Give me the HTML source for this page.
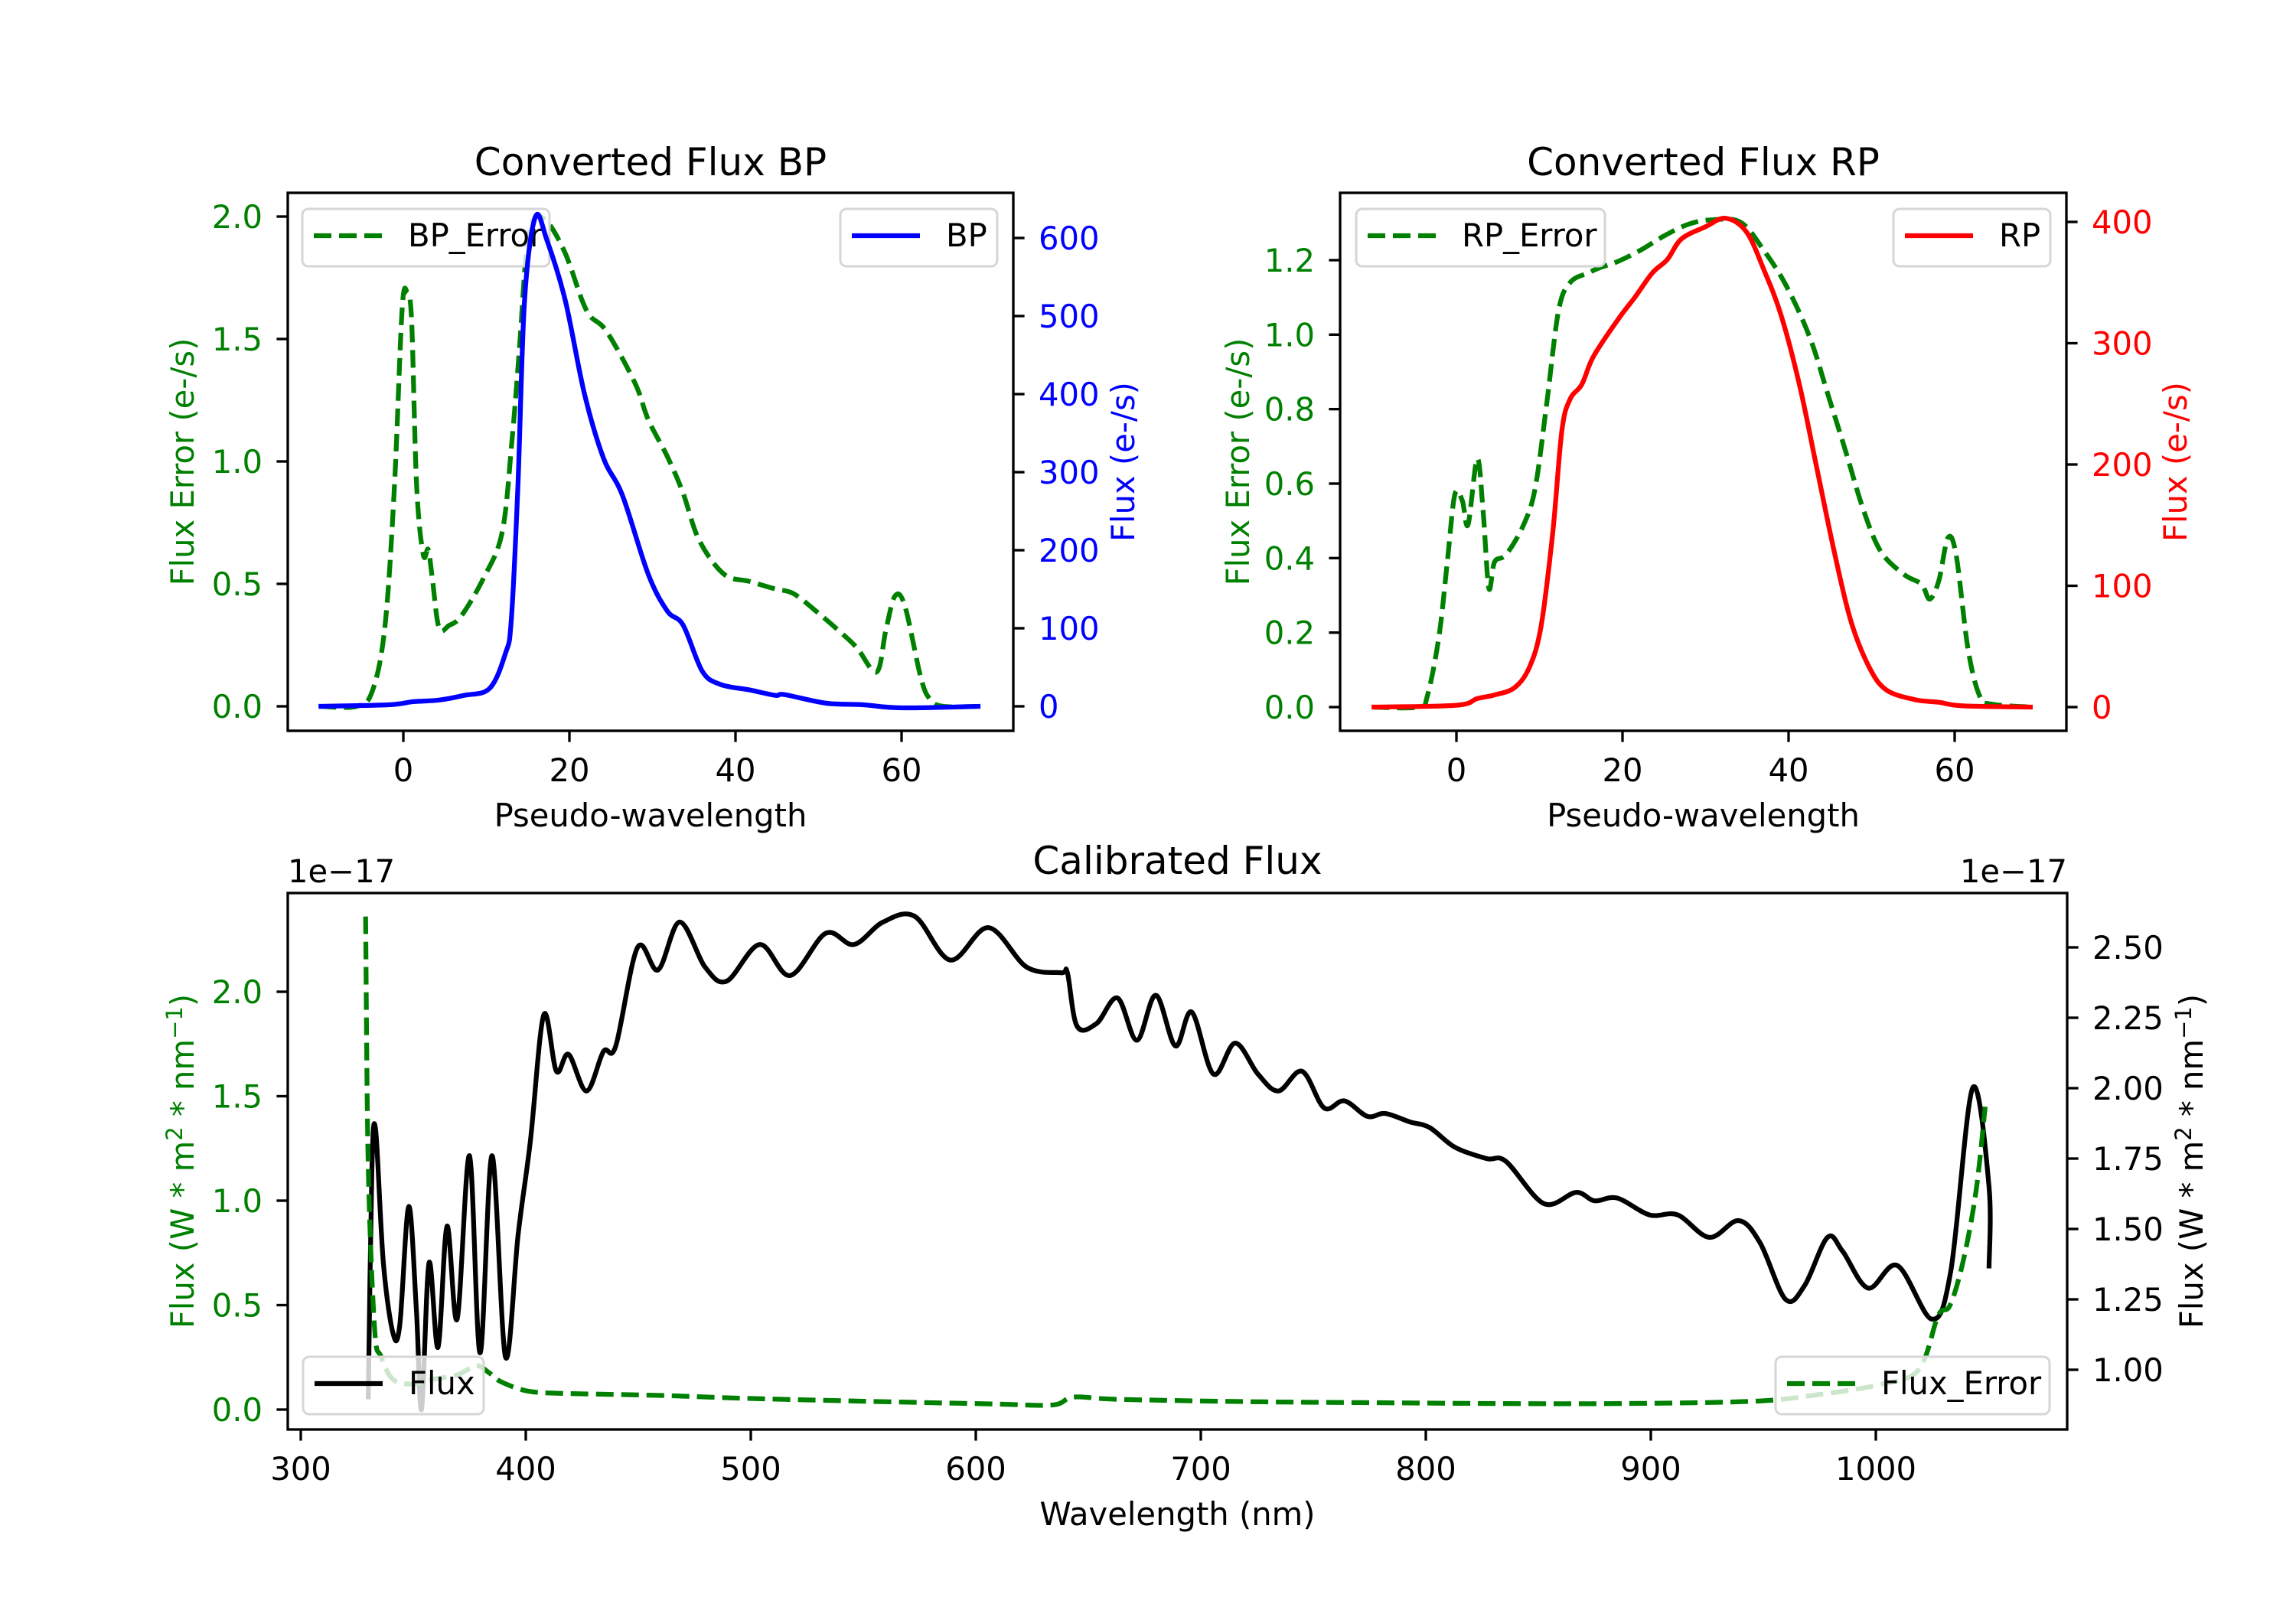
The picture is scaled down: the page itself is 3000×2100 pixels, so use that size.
<!DOCTYPE html>
<html><head><meta charset="utf-8"><style>
html,body{margin:0;padding:0;background:#fff;}
svg{display:block;font-family:"DejaVu Sans","Liberation Sans",sans-serif;}
</style></head><body>
<svg id="fig" width="3000" height="2100" viewBox="0 0 3000 2100" xmlns="http://www.w3.org/2000/svg">
<rect width="3000" height="2100" fill="#fff"/>
</svg>
<script>
// ---- BP panel data ----
const bpX = [-10.2,-1.8,1.2,4.3,7.3,10.4,12.3,13.0,13.8,14.6,15.9,17.3,19.5,21.8,24.1,26.4,29.5,31.8,33.7,36,38.2,41.7,44.8,45.9,50.9,55.4,60,69.5];
const bpFlux = [0,2,6,8,14,23,68,110,282,520,627,597,520,401,318,270,169,122,104,45,28,21,14,15,4,2,-2,0];
const bpErrX = [-10.2,-5.6,-3.7,-2.2,-1.07,-0.15,0.46,1,1.6,2.4,3,3.5,4.3,5.5,7,9.6,11.9,13.1,14,14.8,15.7,17.3,19.5,21.5,22.6,24.5,27.9,29.5,31.8,33.7,35.6,38.6,41.7,44.7,47,50,52.4,54.6,57,58.1,59.2,60.4,62.3,63.4,65,69.5];
const bpErr = [0,0,0.066,0.33,0.9,1.62,1.69,1.57,0.9,0.62,0.64,0.52,0.32,0.33,0.37,0.52,0.71,1.09,1.47,1.85,1.99,1.98,1.85,1.66,1.59,1.53,1.32,1.17,1.02,0.87,0.68,0.54,0.51,0.48,0.46,0.38,0.31,0.24,0.14,0.31,0.45,0.41,0.12,0.03,0,0];
// ---- RP panel data ----
const rpX = [-10.2,0,2.5,4.6,7,8.8,10.2,11.6,12.7,13.7,15.1,16.5,19.4,21.5,23.6,25.4,27.1,30,32.4,34.9,37,39.1,41.3,43.4,45.5,47.5,49.7,51.8,55.3,58.1,61,69.4];
const rpFlux = [0,1.5,7,10,16,33,67,144,228,254,266,289,319,338,358,369,386,396,403,392,361,323,266,197,128,71,33,14,6,4,1,0];
const rpErrX = [-10.2,-4.6,-3.5,-2.1,-1.1,-0.2,0.7,1.4,2.5,3.2,3.9,4.6,6,8.1,9.5,10.9,12.3,13.7,15.8,17.3,19.4,22.2,25,27.9,30.6,34.2,37,39.8,42.6,44.7,46.8,49,51.1,53.9,56,57,58.1,59.2,60.2,61.6,63,64.4,69.4];
const rpErr = [0,0,0.03,0.19,0.39,0.57,0.555,0.49,0.667,0.53,0.32,0.39,0.41,0.49,0.59,0.82,1.065,1.14,1.165,1.18,1.196,1.227,1.265,1.296,1.308,1.302,1.227,1.128,0.99,0.842,0.692,0.53,0.418,0.356,0.33,0.29,0.34,0.455,0.405,0.157,0.03,0.008,0];
// ---- Calibrated panel data (units of 1e-17) ----
const calWl = [330,331.6,333.3,336.7,341,344,348,351.4,353.7,357,361,365,369.5,375,379.7,385,391,396.6,402,408,413.6,419,427,434.5,440,449.7,458.8,468.4,479.7,489.3,504,517.5,533.3,545.8,558.8,572.9,588.7,605.6,622.6,637.9,640.7,645,653.7,663,671.6,680,688.7,696,705.6,715.3,725.4,734.5,745,754.8,763.8,774,782,793,801.7,813,827,835.6,852.5,866.7,875,885,899.4,911.9,926,939,948.6,959.9,968.4,978.5,985.3,996.6,1009.6,1024.9,1033.3,1043,1050.3,1050.3];
const calFlux = [0.895,1.71,1.85,1.38,1.13,1.16,1.58,1.21,0.86,1.38,1.08,1.51,1.18,1.76,1.06,1.76,1.045,1.48,1.81,2.26,2.06,2.12,1.99,2.13,2.15,2.5,2.42,2.59,2.43,2.38,2.51,2.4,2.55,2.51,2.59,2.61,2.455,2.57,2.43,2.41,2.41,2.22,2.23,2.32,2.17,2.33,2.15,2.27,2.05,2.16,2.05,1.99,2.06,1.93,1.955,1.9,1.91,1.88,1.86,1.79,1.75,1.74,1.59,1.63,1.6,1.61,1.55,1.55,1.47,1.53,1.45,1.25,1.3,1.47,1.42,1.29,1.37,1.18,1.35,2.0,1.65,1.36];
const calErrWl = [328.8,330,332.8,335.6,341,349.7,358,369.5,378,383.6,389,400.6,414.7,437,465.5,493.8,550,606.8,634,643.5,663,719.8,776,832.8,889,945.8,974,1002,1019,1027.7,1033,1039,1044.6,1048.6];
const calErr = [2.36,1.16,0.39,0.255,0.144,0.122,0.144,0.166,0.21,0.177,0.133,0.089,0.078,0.073,0.066,0.055,0.04,0.027,0.022,0.06,0.049,0.038,0.033,0.029,0.029,0.04,0.071,0.12,0.19,0.45,0.5,0.72,1.05,1.45];
// ---- tick labels ----
const bpErrTicks = ["0.0","0.5","1.0","1.5","2.0"];
const bpFluxTicks = ["0","100","200","300","400","500","600"];
const rpErrTicks = ["0.0","0.2","0.4","0.6","0.8","1.0","1.2"];
const rpFluxTicks = ["0","100","200","300","400"];
const pwTicks = ["0","20","40","60"];
const wlTicks = ["300","400","500","600","700","800","900","1000"];
const calErrTicks = ["0.0","0.5","1.0","1.5","2.0"];
const calFluxTicks = ["1.00","1.25","1.50","1.75","2.00","2.25","2.50"];

const NS = "http://www.w3.org/2000/svg";
const fig = document.getElementById('fig');
function mk(tag, attrs, parent, text){
  const e = document.createElementNS(NS, tag);
  for (const k in attrs) e.setAttribute(k, attrs[k]);
  if (text !== undefined) e.textContent = text;
  (parent || fig).appendChild(e);
  return e;
}
const FS = 41.7;
const GREEN = "#008000";

const p1x = v => 527 + v * 10.85;
const p1yL = v => 923 - v * 320;
const p1yR = v => 923 - v * 1.02;
const p2x = v => 1903 + v * 10.85;
const p2yL = v => 924 - v * 486.7;
const p2yR = v => 924 - v * 1.585;
const p3x = v => 393 + (v - 300) * 2.94;
const p3yL = v => 1842 - v * 273;
const p3yR = v => 1790 - (v - 1) * 368;

const P1 = {l:376, r:1324, t:252, b:955};
const P2 = {l:1751, r:2700, t:252, b:955};
const P3 = {l:376, r:2701, t:1167, b:1868};

function clipFor(id, P){
  const defs = mk('defs', {});
  const cp = mk('clipPath', {id:id}, defs);
  mk('rect', {x:P.l, y:P.t, width:P.r-P.l, height:P.b-P.t}, cp);
}
clipFor('c1', P1); clipFor('c2', P2); clipFor('c3', P3);

function smoothPath(p){
  let d = 'M' + p[0][0].toFixed(1) + ',' + p[0][1].toFixed(1);
  const t = 0.5 / 3;
  for (let i = 0; i < p.length - 1; i++){
    const p0 = p[i-1] || p[i], p1 = p[i], p2 = p[i+1], p3 = p[i+2] || p2;
    const c1x = p1[0] + (p2[0]-p0[0])*t, c1y = p1[1] + (p2[1]-p0[1])*t;
    const c2x = p2[0] - (p3[0]-p1[0])*t, c2y = p2[1] - (p3[1]-p1[1])*t;
    d += ' C' + c1x.toFixed(1)+','+c1y.toFixed(1)+' '+c2x.toFixed(1)+','+c2y.toFixed(1)+' '+p2[0].toFixed(1)+','+p2[1].toFixed(1);
  }
  return d;
}
function line(xs, ys, fx, fy, color, dashed, clip){
  const pts = xs.map((x,i) => [fx(x), fy(ys[i])]);
  const a = {d:smoothPath(pts), fill:'none', stroke:color, 'stroke-width':6.25, 'stroke-linejoin':'round', 'clip-path':'url(#'+clip+')'};
  if (dashed) a['stroke-dasharray'] = '23 10';
  return mk('path', a);
}
function legend(x, y, w, label, color, dashed){
  const g = mk('g', {});
  mk('rect', {x:x, y:y, width:w, height:75, rx:8, ry:8, fill:'rgba(255,255,255,0.8)', stroke:'#d6d6d6', 'stroke-width':3}, g);
  const la = {x1:x+15, y1:y+35, x2:x+104, y2:y+35, stroke:color, 'stroke-width':6.25};
  if (dashed) la['stroke-dasharray'] = '23 10';
  mk('line', la, g);
  mk('text', {x:x+138, y:y+49, 'font-size':FS, fill:'#000'}, g, label);
  return g;
}
function frame(P){
  return mk('rect', {x:P.l, y:P.t, width:P.r-P.l, height:P.b-P.t, fill:'none', stroke:'#000', 'stroke-width':3.33});
}
function yTicks(labels, vals, fy, xAxis, side, color){
  const g = mk('g', {});
  labels.forEach((lab, i) => {
    const y = fy(vals[i]);
    const x2 = side === 'left' ? xAxis - 14.6 : xAxis + 14.6;
    mk('line', {x1:xAxis, y1:y, x2:x2, y2:y, stroke:'#000', 'stroke-width':3.33}, g);
    const tx = side === 'left' ? xAxis - 33 : xAxis + 33;
    mk('text', {x:tx, y:y + 15, 'font-size':FS, fill:color, 'text-anchor': side === 'left' ? 'end' : 'start'}, g, lab);
  });
  return g;
}
function xTicks(labels, vals, fx, yAxis, baseOff){
  const g = mk('g', {});
  labels.forEach((lab, i) => {
    const x = fx(vals[i]);
    mk('line', {x1:x, y1:yAxis, x2:x, y2:yAxis + 14.6, stroke:'#000', 'stroke-width':3.33}, g);
    mk('text', {x:x, y:yAxis + baseOff, 'font-size':FS, fill:'#000', 'text-anchor':'middle'}, g, lab);
  });
  return g;
}
function ylabel(x, yc, text, color){
  return mk('text', {x:0, y:0, transform:'translate('+x+','+yc+') rotate(-90)', 'font-size':FS, fill:color, 'text-anchor':'middle'}, fig, text);
}

// ===== Panel 1: BP =====
let e;
e = mk('text', {x:(P1.l+P1.r)/2, y:229, 'font-size':50, 'text-anchor':'middle'}, fig, 'Converted Flux BP');


e = line(bpErrX, bpErr, p1x, p1yL, GREEN, true, 'c1');


e = legend(395, 273, 323, 'BP_Error', GREEN, true);


e = line(bpX, bpFlux, p1x, p1yR, '#0000ff', false, 'c1');


e = legend(1098, 273, 205, 'BP', '#0000ff', false);


e = frame(P1);


e = yTicks(bpErrTicks, bpErrTicks.map(Number), p1yL, P1.l, 'left', GREEN);


e = yTicks(bpFluxTicks, bpFluxTicks.map(Number), p1yR, P1.r, 'right', '#0000ff');


e = xTicks(pwTicks, pwTicks.map(Number), p1x, P1.b, 66);


e = mk('text', {x:(P1.l+P1.r)/2, y:1080, 'font-size':FS, 'text-anchor':'middle'}, fig, 'Pseudo-wavelength');


e = ylabel(253, (P1.t+P1.b)/2, 'Flux Error (e-/s)', GREEN);


e = ylabel(1482, (P1.t+P1.b)/2, 'Flux (e-/s)', '#0000ff');



// ===== Panel 2: RP =====
e = mk('text', {x:(P2.l+P2.r)/2, y:229, 'font-size':50, 'text-anchor':'middle'}, fig, 'Converted Flux RP');


e = line(rpErrX, rpErr, p2x, p2yL, GREEN, true, 'c2');


e = legend(1772, 273, 325, 'RP_Error', GREEN, true);


e = line(rpX, rpFlux, p2x, p2yR, '#ff0000', false, 'c2');


e = legend(2474, 273, 205, 'RP', '#ff0000', false);


e = frame(P2);


e = yTicks(rpErrTicks, rpErrTicks.map(Number), p2yL, P2.l, 'left', GREEN);


e = yTicks(rpFluxTicks, rpFluxTicks.map(Number), p2yR, P2.r, 'right', '#ff0000');


e = xTicks(pwTicks, pwTicks.map(Number), p2x, P2.b, 66);


e = mk('text', {x:(P2.l+P2.r)/2, y:1080, 'font-size':FS, 'text-anchor':'middle'}, fig, 'Pseudo-wavelength');


e = ylabel(1632, (P2.t+P2.b)/2, 'Flux Error (e-/s)', GREEN);


e = ylabel(2857, (P2.t+P2.b)/2, 'Flux (e-/s)', '#ff0000');



// ===== Panel 3: Calibrated =====
e = mk('text', {x:(P3.l+P3.r)/2, y:1142, 'font-size':50, 'text-anchor':'middle'}, fig, 'Calibrated Flux');


e = mk('text', {x:376, y:1153, 'font-size':FS}, fig, '1e\u221217');


e = mk('text', {x:2701, y:1153, 'font-size':FS, 'text-anchor':'end'}, fig, '1e\u221217');


e = line(calWl, calFlux, p3x, p3yR, '#000', false, 'c3');


e = line(calErrWl, calErr, p3x, p3yL, GREEN, true, 'c3');


e = legend(396, 1773, 236, 'Flux', '#000', false);


e = legend(2320, 1773, 358, 'Flux_Error', GREEN, true);


e = frame(P3);


e = yTicks(calErrTicks, calErrTicks.map(Number), p3yL, P3.l, 'left', GREEN);


e = yTicks(calFluxTicks, calFluxTicks.map(Number), p3yR, P3.r, 'right', '#000');


e = xTicks(wlTicks, wlTicks.map(Number), p3x, P3.b, 66);


e = mk('text', {x:(P3.l+P3.r)/2, y:1993, 'font-size':FS, 'text-anchor':'middle'}, fig, 'Wavelength (nm)');



function unitLabel(x, color){
  const t = mk('text', {x:0, y:0, transform:'translate('+x+','+((P3.t+P3.b)/2)+') rotate(-90)', 'font-size':FS, fill:color, 'text-anchor':'middle'});
  mk('tspan', {}, t, 'Flux (W * m');
  mk('tspan', {dy:-15, 'font-size':29}, t, '2');
  mk('tspan', {dy:15}, t, ' * nm');
  mk('tspan', {dy:-15, 'font-size':29}, t, '\u22121');
  mk('tspan', {dy:15}, t, ')');
  return t;
}
e = unitLabel(253, GREEN);


e = unitLabel(2878, '#000');


</script>
</body></html>
